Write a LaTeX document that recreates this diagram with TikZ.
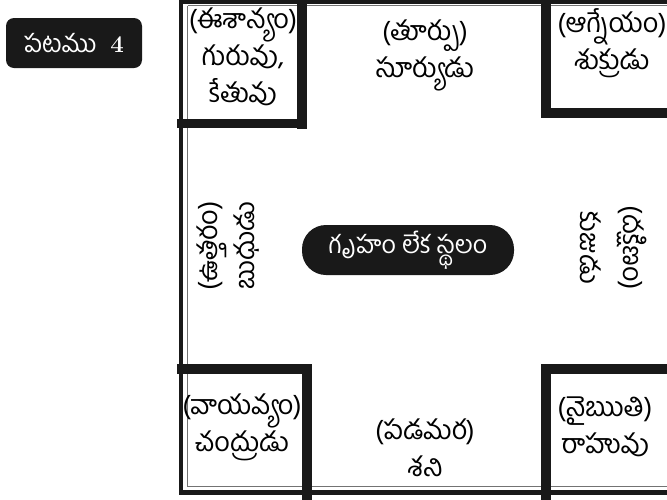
\documentclass[tikz,border=0pt]{standalone}
\usepackage{fontspec}
\newfontfamily\te[Script=Telugu]{Hind Guntur}
\begin{document}
\begin{tikzpicture}[x=1pt,y=-1pt,
  tt/.style={font=\te\fontsize{27}{37}\selectfont, align=center, inner sep=0pt},
  thick line/.style={line width=9.5pt, black!90},
  outer line/.style={line width=4.5pt, black!90},
  inner line/.style={line width=0.9pt, black!55},
  pill/.style={fill=black!90, text=white, rounded corners=24pt, inner sep=0pt}]
\useasboundingbox (0,0) rectangle (667,499);
% label
\node[fill=black!90, text=white, rounded corners=8pt, minimum width=136pt, minimum height=50pt, inner sep=0pt,
  font=\te\fontsize{25}{28}\selectfont] (fig) at (74,43) {పటము\hspace{14pt}{\fontspec{Latin Modern Roman}\bfseries\fontsize{24}{26}\selectfont 4}};
% outer frame
\draw[outer line] (181,1.5) -- (672,1.5);
\draw[outer line] (181,-1) -- (181,492.5) -- (672,492.5);
\draw[inner line] (187.5,5.5) -- (672,5.5);
\draw[inner line] (187.5,5.5) -- (187.5,486) -- (672,486);
% corner boxes
\draw[thick line] (302,-2) -- (302,128.5);
\draw[thick line] (177,123.5) -- (306.75,123.5);
\draw[thick line] (546,-2) -- (546,117.5);
\draw[thick line] (541.25,113) -- (672,113);
\draw[thick line] (177,369) -- (311.75,369);
\draw[thick line] (307,364.25) -- (307,502);
\draw[thick line] (541.25,369) -- (672,369);
\draw[thick line] (546,364.25) -- (546,502);
% texts
\node[tt] (ne) at (243,57) {(ఈశాన్యం)\\గురువు,\\కేతువు};
\node[tt] (east) at (425,55) {(తూర్పు)\\సూర్యుడు};
\node[tt] (se) at (612,43) {(ఆగ్నేయం)\\శుక్రుడు};
\node[tt, rotate=90] (north) at (228,246) {(ఉత్తరం)\\బుధుడు};
\node[tt, rotate=-90] (south) at (614,248) {(దక్షిణం)\\[6pt]కుజుడు};
\node[tt] (nw) at (242,427) {(వాయవ్యం)\\చంద్రుడు};
\node[tt] (west) at (425,448) {(పడమర)\\శని};
\node[tt] (sw) at (605,427) {(నైఋతి)\\రాహువు};
\node[pill, minimum width=212pt, minimum height=50pt, font=\te\fontsize{25}{28}\selectfont] (center) at (408,250) {గృహం లేక స్థలం};
\end{tikzpicture}
\end{document}
